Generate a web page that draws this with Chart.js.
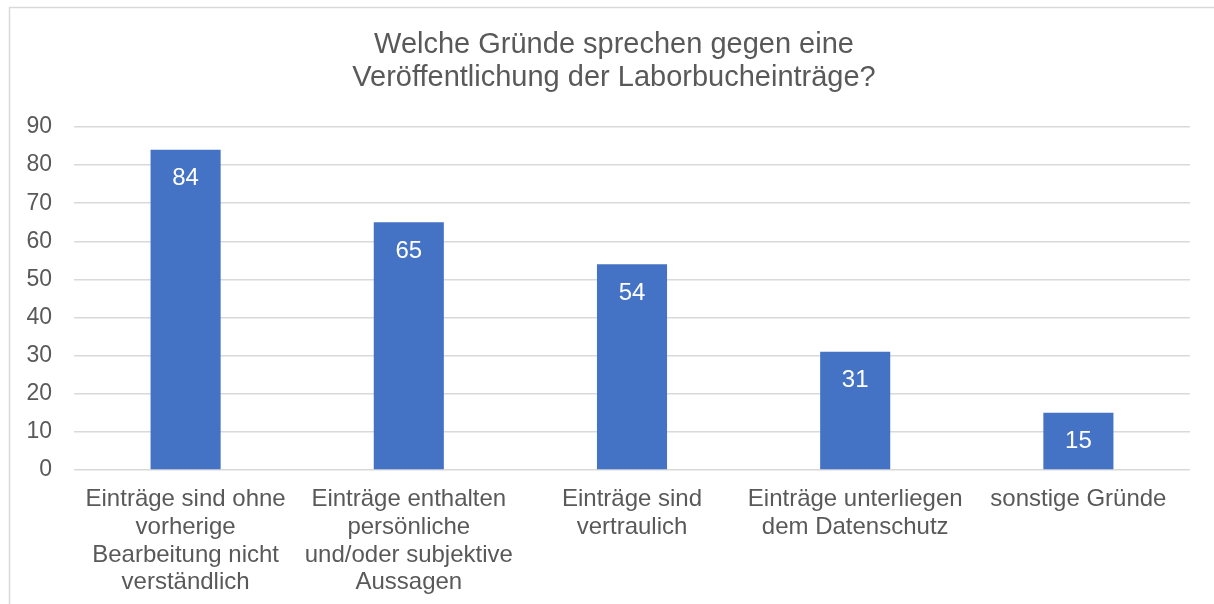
<!DOCTYPE html>
<html>
<head>
<meta charset="utf-8">
<script src="https://cdn.jsdelivr.net/npm/chart.js@4/dist/chart.umd.min.js"></script>
<style>
  html, body { margin: 0; padding: 0; background: #fff; }
  canvas { display: block; }
</style>
</head>
<body>
<canvas id="myChart" width="1214" height="604"></canvas>
<script>
var titleLines = ["Welche Gründe sprechen gegen eine", "Veröffentlichung der Laborbucheinträge?"];
var categories = [
    ["Einträge sind ohne", "vorherige", "Bearbeitung nicht", "verständlich"],
    ["Einträge enthalten", "persönliche", "und/oder subjektive", "Aussagen"],
    ["Einträge sind", "vertraulich"],
    ["Einträge unterliegen", "dem Datenschutz"],
    ["sonstige Gründe"]
];
var values = [84, 65, 54, 31, 15];
var yTicks = [0, 10, 20, 30, 40, 50, 60, 70, 80, 90];

var textColor = "#595959";
var gridColor = "#d9d9d9";
var fontFamily = "'Liberation Sans', Arial, sans-serif";

// white value inside the top of each bar
var valueLabels = {
    id: 'valueLabels',
    afterDatasetsDraw: function (chart) {
        var ctx = chart.ctx;
        var meta = chart.getDatasetMeta(0);
        ctx.save();
        ctx.fillStyle = "#ffffff";
        ctx.font = "24px " + fontFamily;
        ctx.textAlign = "center";
        ctx.textBaseline = "middle";
        meta.data.forEach(function (bar, i) {
            ctx.fillText(values[i], bar.x, bar.y + 29);
        });
        ctx.restore();
    }
};

// frame of the chart (only top and left edges are inside the picture) + title,
// which is centred on the whole frame, not on the plot
var frame = {
    id: 'frame',
    beforeDraw: function (chart) {
        var ctx = chart.ctx;
        ctx.save();
        ctx.strokeStyle = gridColor;
        ctx.lineWidth = 1.5;
        ctx.beginPath();
        ctx.moveTo(9.5, 604);
        ctx.lineTo(9.5, 7.5);
        ctx.lineTo(1214, 7.5);
        ctx.stroke();

        ctx.fillStyle = textColor;
        ctx.font = "29px " + fontFamily;
        ctx.textAlign = "center";
        ctx.textBaseline = "middle";
        ctx.fillText(titleLines[0], 614, 45);
        ctx.fillText(titleLines[1], 614, 78);
        ctx.restore();
    }
};

var ctx = document.getElementById("myChart").getContext('2d');

var myChart = new Chart(ctx, {
    type: 'bar',
    data: {
        labels: categories,
        datasets: [{
            data: values,
            backgroundColor: "#4472C4",
            borderWidth: 0,
            categoryPercentage: 1,
            barPercentage: 0.314
        }]
    },
    options: {
        responsive: false,
        animation: false,
        layout: { padding: { left: 0, right: 24, top: 127, bottom: 0 } },
        plugins: {
            legend: { display: false },
            tooltip: { enabled: false },
            title: { display: false }
        },
        scales: {
            x: {
                grid: { display: false },
                border: { display: false },
                ticks: {
                    color: textColor,
                    font: { family: fontFamily, size: 24, lineHeight: 1.15 },
                    padding: 8,
                    maxRotation: 0,
                    autoSkip: false
                },
                afterFit: function (scale) { scale.height = 134; }
            },
            y: {
                min: 0,
                max: 90,
                afterBuildTicks: function (scale) {
                    scale.ticks = yTicks.map(function (v) { return { value: v }; });
                },
                grid: { color: gridColor, lineWidth: 1.5, drawTicks: false },
                border: { display: false },
                ticks: {
                    color: textColor,
                    font: { family: fontFamily, size: 23 },
                    padding: 22
                },
                afterFit: function (scale) { scale.width = 74; }
            }
        }
    },
    plugins: [valueLabels, frame]
});
</script>
</body>
</html>
